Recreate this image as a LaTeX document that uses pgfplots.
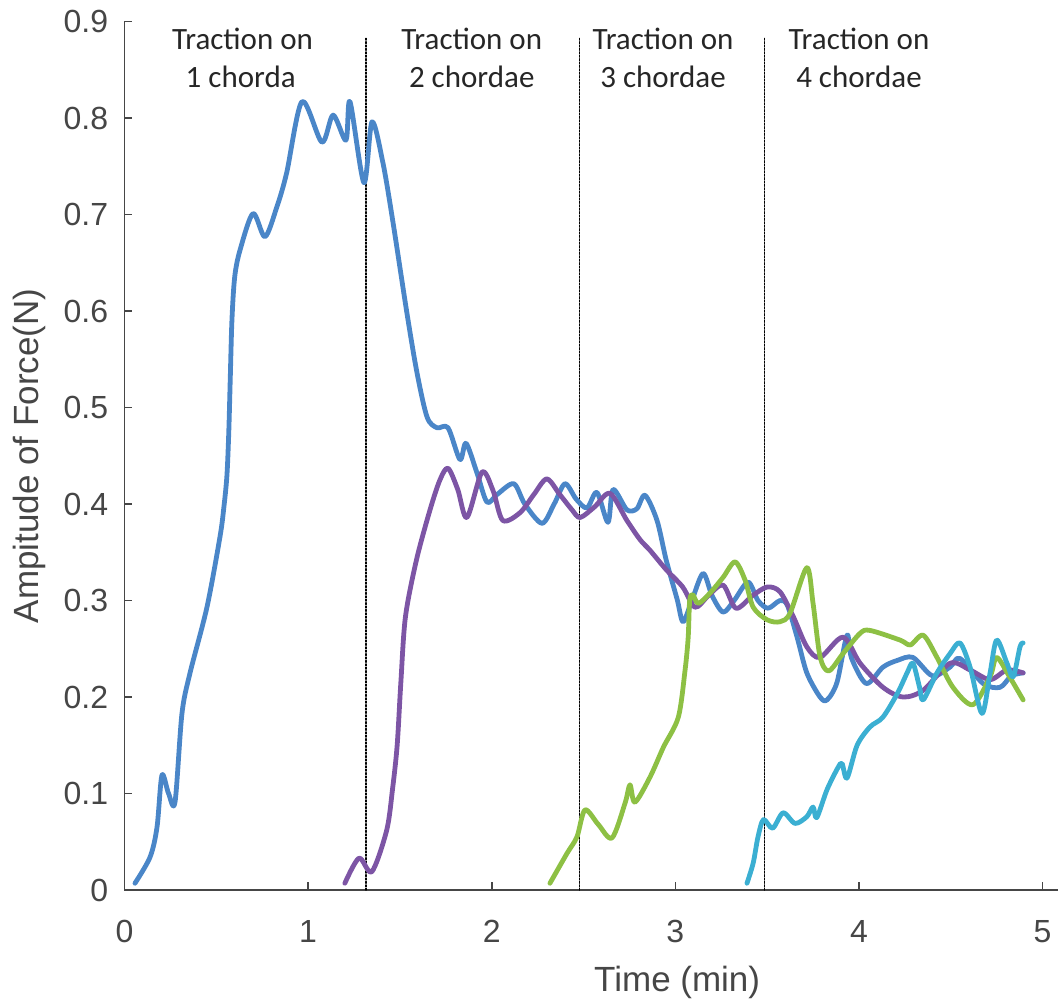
\documentclass[border=0pt]{standalone}
\usepackage{fontspec}
\setmainfont{Liberation Sans}
\newfontfamily\calfont{Carlito}
\usepackage{pgfplots}
\pgfplotsset{compat=1.18}

\definecolor{cBlue}{RGB}{74,134,200}
\definecolor{cPurple}{RGB}{125,85,165}
\definecolor{cGreen}{RGB}{141,192,68}
\definecolor{cCyan}{RGB}{59,175,210}
\definecolor{tickgray}{RGB}{70,70,70}

\begin{document}
\begin{tikzpicture}
  \useasboundingbox (-62.25pt,-56.5pt) rectangle (466.75pt,445pt);
  \begin{axis}[at={(0,0)},anchor=south west,scale only axis,
    width=466.75pt,height=434.25pt,
    xmin=0,xmax=5.084,ymin=0,ymax=0.9,
    xtick={0,1,2,3,4,5},ytick={0,0.1,0.2,0.3,0.4,0.5,0.6,0.7,0.8,0.9},
    yticklabels={0,0.1,0.2,0.3,0.4,0.5,0.6,0.7,0.8,0.9},
    axis x line=bottom,axis y line=left,
    axis line style={-,draw=tickgray,line width=0.8pt},
    tick align=inside,major tick length=4pt,
    tick style={draw=tickgray,line width=0.8pt},
    /pgf/number format/assume math mode=true,
    ticklabel style={font=\fontsize{16}{19}\selectfont,text=tickgray,inner sep=0pt},
    xticklabel style={anchor=center,yshift=-20.75pt},
    yticklabel style={anchor=east,xshift=-8pt},
    clip=false,
    every axis plot/.append style={line width=2.4pt,smooth,tension=0.5,line join=round,line cap=round}]

    % section dividers
    \addplot[black,line width=0.8pt,dash pattern=on 0.8pt off 0.9pt,sharp plot] coordinates {(1.314,0) (1.314,0.884)};
    \addplot[black,line width=0.8pt,dash pattern=on 0.8pt off 0.9pt,sharp plot] coordinates {(2.477,0) (2.477,0.884)};
    \addplot[black,line width=0.8pt,dash pattern=on 0.8pt off 0.9pt,sharp plot] coordinates {(3.485,0) (3.485,0.884)};

    % 1 chorda
    \addplot[cBlue] coordinates {
      (0.057,0.007) (0.139,0.034) (0.177,0.065) (0.204,0.119) (0.240,0.100) (0.275,0.091)
      (0.313,0.183) (0.357,0.225) (0.449,0.293) (0.520,0.366) (0.542,0.398) (0.558,0.430)
      (0.568,0.475) (0.576,0.530) (0.585,0.590) (0.600,0.635) (0.629,0.663) (0.700,0.701)
      (0.765,0.677) (0.830,0.708) (0.883,0.743)
      (0.967,0.817) (1.075,0.775) (1.136,0.803) (1.206,0.777) (1.228,0.817) (1.304,0.733)
      (1.348,0.796) (1.408,0.753) (1.463,0.691) (1.538,0.598) (1.593,0.536) (1.648,0.490)
      (1.702,0.479) (1.762,0.479) (1.827,0.446) (1.860,0.463) (1.920,0.432) (1.974,0.402)
      (2.030,0.410) (2.120,0.421) (2.180,0.400) (2.274,0.380) (2.340,0.400) (2.399,0.421)
      (2.460,0.405) (2.519,0.396) (2.573,0.412) (2.633,0.381) (2.661,0.415) (2.736,0.394)
      (2.790,0.395) (2.835,0.409) (2.900,0.383) (2.950,0.342) (3.010,0.301) (3.042,0.278)
      (3.090,0.300) (3.151,0.328) (3.200,0.305) (3.260,0.288) (3.320,0.300) (3.396,0.319)
      (3.450,0.300) (3.505,0.292) (3.570,0.300) (3.610,0.295) (3.663,0.262) (3.716,0.225)
      (3.788,0.200) (3.826,0.197) (3.880,0.215) (3.935,0.264) (3.960,0.240) (4.040,0.214)
      (4.131,0.231) (4.210,0.238) (4.294,0.241) (4.400,0.222) (4.496,0.231) (4.550,0.240)
      (4.676,0.214) (4.768,0.210) (4.830,0.222) (4.894,0.225)};

    % 2 chordae
    \addplot[cPurple] coordinates {
      (1.200,0.007) (1.277,0.033) (1.347,0.019) (1.428,0.062) (1.460,0.105) (1.485,0.150)
      (1.505,0.215) (1.530,0.283) (1.590,0.342) (1.664,0.394) (1.718,0.425) (1.762,0.437)
      (1.815,0.415) (1.865,0.386) (1.947,0.433) (2.007,0.414) (2.060,0.383) (2.154,0.391)
      (2.230,0.410) (2.300,0.426) (2.370,0.410) (2.437,0.394) (2.481,0.386) (2.560,0.397)
      (2.644,0.411) (2.736,0.383) (2.808,0.363) (2.862,0.352) (2.950,0.332) (3.040,0.314)
      (3.107,0.293) (3.180,0.305) (3.260,0.316) (3.330,0.292) (3.420,0.305) (3.500,0.314)
      (3.570,0.309) (3.643,0.283) (3.716,0.252) (3.788,0.241) (3.913,0.262) (4.006,0.235)
      (4.131,0.210) (4.240,0.200) (4.350,0.207) (4.496,0.235) (4.605,0.228) (4.714,0.218)
      (4.806,0.228) (4.894,0.225)};

    % 3 chordae
    \addplot[cGreen] coordinates {
      (2.317,0.007) (2.410,0.038) (2.464,0.055) (2.508,0.083) (2.580,0.068) (2.655,0.054)
      (2.726,0.090) (2.753,0.109) (2.780,0.091) (2.862,0.117) (2.935,0.148) (3.016,0.179)
      (3.053,0.228) (3.070,0.262) (3.078,0.300) (3.095,0.306) (3.125,0.297) (3.190,0.308)
      (3.260,0.324) (3.325,0.340) (3.380,0.321) (3.424,0.293) (3.500,0.280) (3.570,0.278)
      (3.625,0.287) (3.716,0.334) (3.750,0.297) (3.788,0.242) (3.835,0.227) (3.913,0.245)
      (4.006,0.266) (4.060,0.269) (4.224,0.259) (4.280,0.254) (4.350,0.264) (4.425,0.241)
      (4.512,0.210) (4.620,0.192) (4.714,0.221) (4.750,0.241) (4.820,0.221) (4.894,0.197)};

    % 4 chordae
    \addplot[cCyan] coordinates {
      (3.390,0.007) (3.424,0.028) (3.450,0.055) (3.480,0.073) (3.530,0.064) (3.587,0.080)
      (3.652,0.069) (3.716,0.076) (3.750,0.086) (3.770,0.075) (3.826,0.104) (3.886,0.127)
      (3.908,0.131) (3.935,0.116) (3.990,0.150) (4.060,0.169) (4.130,0.179) (4.210,0.204)
      (4.262,0.225) (4.294,0.235) (4.330,0.210) (4.350,0.197) (4.425,0.225) (4.496,0.245)
      (4.550,0.256) (4.605,0.231) (4.670,0.183) (4.714,0.225) (4.750,0.259) (4.806,0.235)
      (4.840,0.221) (4.877,0.252) (4.894,0.256)};

    % section labels
    \begin{scope}[every node/.style={anchor=base,font=\calfont\fontsize{15.5}{19}\selectfont,text=black!85,inner sep=0pt}]
      \node at (axis cs:0.643,0.8715) {Traction on};
      \node at (axis cs:0.633,0.832) {1 chorda};
      \node at (axis cs:1.891,0.8715) {Traction on};
      \node at (axis cs:1.891,0.832) {2 chordae};
      \node at (axis cs:2.933,0.8715) {Traction on};
      \node at (axis cs:2.933,0.832) {3 chordae};
      \node at (axis cs:4.000,0.8715) {Traction on};
      \node at (axis cs:4.000,0.832) {4 chordae};
    \end{scope}

    % axis titles
    \node[font=\fontsize{17.5}{21}\selectfont,text=tickgray,inner sep=0pt,anchor=center,yshift=-46pt]
      at (axis cs:3.01,0) {Time (min)};
    \node[font=\fontsize{17.5}{21}\selectfont,text=tickgray,inner sep=0pt,anchor=center,xshift=-47.75pt,rotate=90]
      at (axis cs:0,0.45) {Ampitude of Force(N)};
  \end{axis}
\end{tikzpicture}
\end{document}
